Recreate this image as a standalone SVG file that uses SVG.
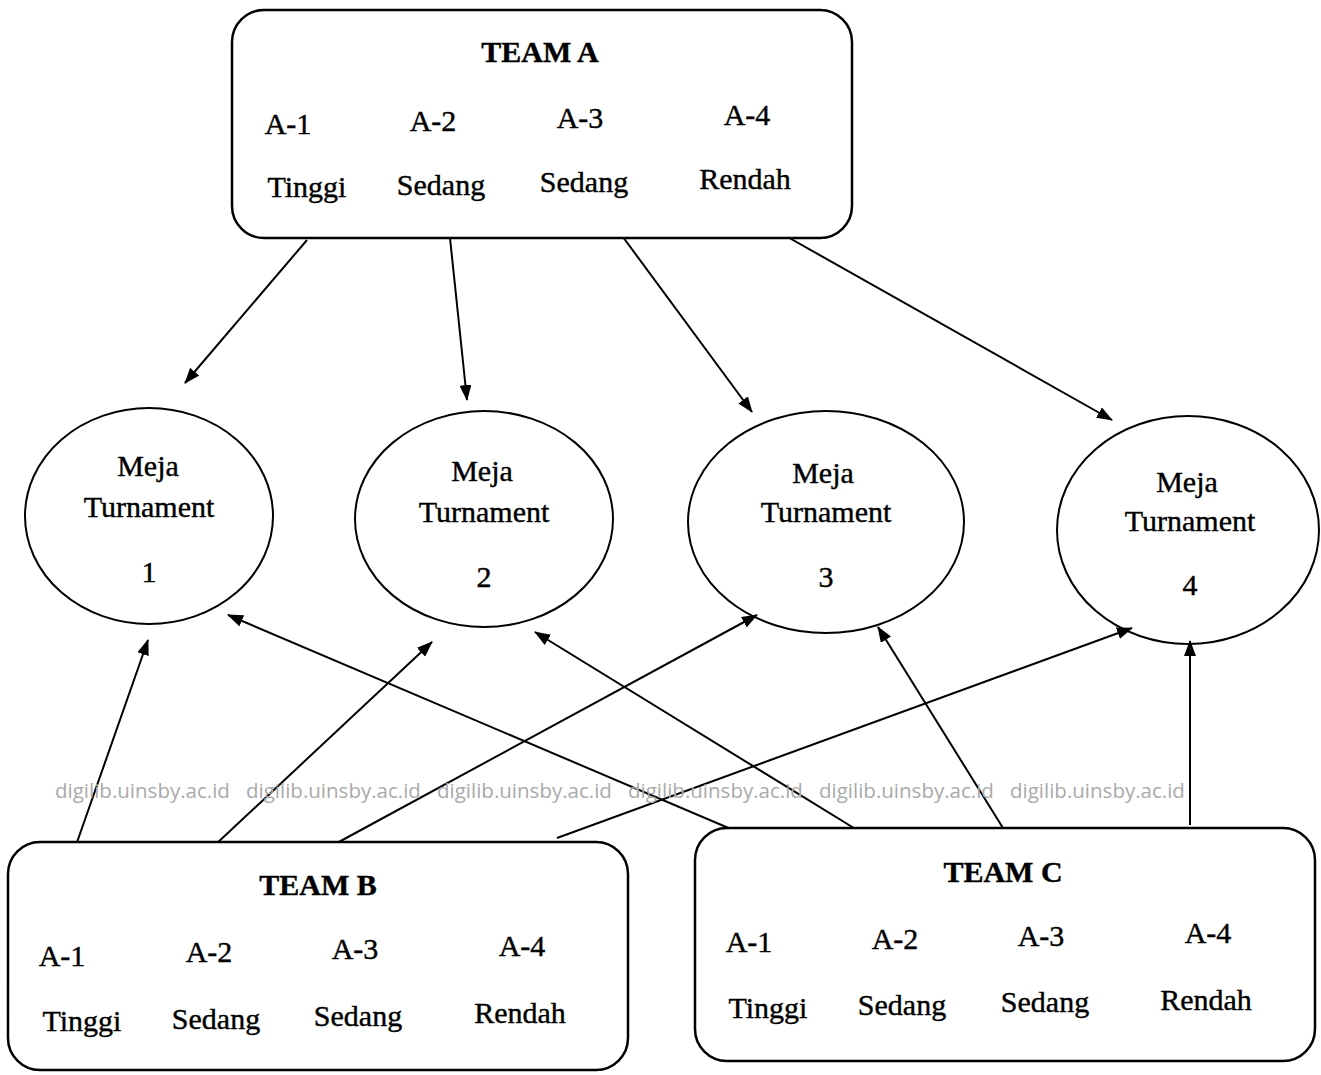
<svg xmlns="http://www.w3.org/2000/svg" width="1321" height="1075" viewBox="0 0 1321 1075">
<defs>
<marker id="ah" viewBox="0 0 16 12" refX="15" refY="6" markerWidth="16" markerHeight="12" markerUnits="userSpaceOnUse" orient="auto">
<path d="M0,0 L16,6 L0,12 Z" fill="#000"/>
</marker>
<style>
.box{fill:#fff;stroke:#000;stroke-width:2.5}
.ell{fill:none;stroke:#000;stroke-width:2}
.t{font-family:"Liberation Serif",serif;font-size:30px;fill:#000;text-anchor:middle;stroke:#000;stroke-width:0.4}
.b{font-weight:bold}
.c line{stroke:#000;stroke-width:2;marker-end:url(#ah)}
.wm{font-family:"Open Sans","DejaVu Sans",sans-serif;font-size:20.5px;fill:#aaa}
</style>
</defs>
<rect width="1321" height="1075" fill="#fff"/>
<g class="c" id="connectors">
<line x1="307" y1="240" x2="185" y2="383"/>
<line x1="450" y1="238" x2="467" y2="400"/>
<line x1="620" y1="233" x2="752" y2="412"/>
<line x1="777" y1="231" x2="1112" y2="420"/>
<line x1="75" y1="848" x2="148" y2="640"/>
<line x1="215" y1="845" x2="432" y2="642"/>
<line x1="337" y1="843" x2="757" y2="615"/>
<line x1="557" y1="838" x2="1132" y2="628"/>
<line x1="745" y1="835" x2="228" y2="615"/>
<line x1="862" y1="833" x2="535" y2="632"/>
<line x1="1003" y1="828" x2="878" y2="627"/>
<line x1="1190" y1="825" x2="1190" y2="641"/>
</g>
<g id="watermark">
<text class="wm" x="55" y="798">digilib.uinsby.ac.id</text>
<text class="wm" x="246" y="798">digilib.uinsby.ac.id</text>
<text class="wm" x="437" y="798">digilib.uinsby.ac.id</text>
<text class="wm" x="628" y="798">digilib.uinsby.ac.id</text>
<text class="wm" x="819" y="798">digilib.uinsby.ac.id</text>
<text class="wm" x="1010" y="798">digilib.uinsby.ac.id</text>
</g>
<g id="teamA">
<rect class="box" x="232" y="10" width="620" height="228" rx="32"/>
<text class="t b" x="540" y="62">TEAM A</text>
<text class="t" x="288" y="134">A-1</text>
<text class="t" x="433" y="131">A-2</text>
<text class="t" x="580" y="128">A-3</text>
<text class="t" x="747" y="125">A-4</text>
<text class="t" x="307" y="197">Tinggi</text>
<text class="t" x="441" y="195">Sedang</text>
<text class="t" x="584" y="192">Sedang</text>
<text class="t" x="745" y="189">Rendah</text>
</g>
<g id="meja1">
<ellipse class="ell" cx="149" cy="516" rx="124" ry="108"/>
<text class="t" x="148" y="476">Meja</text>
<text class="t" x="149" y="517">Turnament</text>
<text class="t" x="149" y="582">1</text>
</g>
<g id="meja2">
<ellipse class="ell" cx="484" cy="519" rx="129" ry="108"/>
<text class="t" x="482" y="481">Meja</text>
<text class="t" x="484" y="522">Turnament</text>
<text class="t" x="484" y="587">2</text>
</g>
<g id="meja3">
<ellipse class="ell" cx="826" cy="522" rx="138" ry="111"/>
<text class="t" x="823" y="483">Meja</text>
<text class="t" x="826" y="522">Turnament</text>
<text class="t" x="826" y="587">3</text>
</g>
<g id="meja4">
<ellipse class="ell" cx="1188" cy="530" rx="131" ry="114"/>
<text class="t" x="1187" y="492">Meja</text>
<text class="t" x="1190" y="531">Turnament</text>
<text class="t" x="1190" y="595">4</text>
</g>
<g id="teamB">
<rect class="box" x="8" y="842" width="620" height="228" rx="32"/>
<text class="t b" x="318" y="895">TEAM B</text>
<text class="t" x="62" y="966">A-1</text>
<text class="t" x="209" y="962">A-2</text>
<text class="t" x="355" y="959">A-3</text>
<text class="t" x="522" y="956">A-4</text>
<text class="t" x="82" y="1031">Tinggi</text>
<text class="t" x="216" y="1029">Sedang</text>
<text class="t" x="358" y="1026">Sedang</text>
<text class="t" x="520" y="1023">Rendah</text>
</g>
<g id="teamC">
<rect class="box" x="695" y="828" width="620" height="233" rx="32"/>
<text class="t b" x="1003" y="882">TEAM C</text>
<text class="t" x="749" y="952">A-1</text>
<text class="t" x="895" y="949">A-2</text>
<text class="t" x="1041" y="946">A-3</text>
<text class="t" x="1208" y="943">A-4</text>
<text class="t" x="768" y="1018">Tinggi</text>
<text class="t" x="902" y="1015">Sedang</text>
<text class="t" x="1045" y="1012">Sedang</text>
<text class="t" x="1206" y="1010">Rendah</text>
</g>
</svg>
